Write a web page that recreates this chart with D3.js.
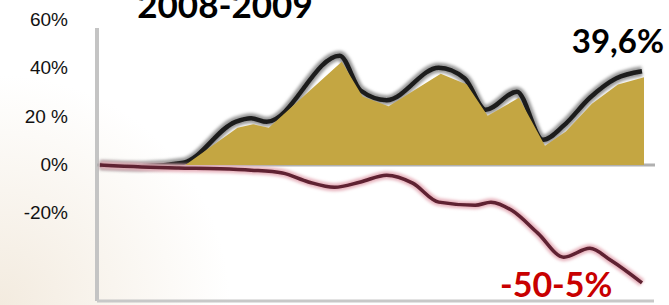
<!DOCTYPE html>
<html>
<head>
<meta charset="utf-8">
<script src="https://cdn.jsdelivr.net/npm/d3@7/dist/d3.min.js"></script>
<style>
  html, body { margin: 0; padding: 0; background: #fff; overflow: hidden; }
  svg { display: block; }
</style>
</head>
<body>
<div id="chart"></div>
<script>
// Data (weeks since start of 2008, cumulative % change)
const gainWeeks  = [0, 8, 16, 26, 29, 32, 46, 50, 55, 65, 70, 74, 80, 85, 89, 94, 99, 104];
const gainValues = [0, -0.5, 1, 18, 19.5, 18, 45.5, 31, 27, 40.5, 36, 23, 30.5, 10.5, 16.5, 28, 36, 39];

const lossWeeks  = [0, 8, 15, 23, 29, 35, 40, 45, 50, 55, 60, 65, 72, 75, 79, 84, 89, 94, 98, 104];
const lossValues = [0, -0.8, -1.2, -1.5, -2.1, -3.3, -7, -9.2, -7, -4.2, -7.5, -15.4, -16.7, -15.4, -18.8, -28.3, -38.3, -34.6, -39.6, -49];

const yTickValues = [60, 40, 20, 0, -20];
const yTickLabels = ["60%", "40%", "20 %", "0%", "-20%"];

const titleText = "2008-2009";
const gainLabel = "39,6%";
const lossLabel = "-50-5%";

const drawChart = (containerId) => {
    const width = 669;
    const height = 305;

    const gain = gainWeeks.map((w, i) => ({ w, v: gainValues[i] }));
    const loss = lossWeeks.map((w, i) => ({ w, v: lossValues[i] }));

    // Scales
    const xScale = d3.scaleLinear().domain([0, 104]).range([100, 642]);
    const yScale = d3.scaleLinear().domain([-56.5, 57]).range([301, 28]);

    const svg = d3.select(containerId)
        .append("svg")
        .attr("width", width)
        .attr("height", height);

    const defs = svg.append("defs");

    // faint beige wash in the lower left corner
    const bg = defs.append("radialGradient")
        .attr("id", "bgwash")
        .attr("gradientUnits", "userSpaceOnUse")
        .attr("cx", 0).attr("cy", height).attr("r", 230);
    bg.append("stop").attr("offset", "0%").attr("stop-color", "#f3ebdf");
    bg.append("stop").attr("offset", "100%").attr("stop-color", "#ffffff");

    const soft = defs.append("filter").attr("id", "soft")
        .attr("x", "-10%").attr("y", "-10%").attr("width", "120%").attr("height", "120%");
    soft.append("feGaussianBlur").attr("stdDeviation", 1.6);

    const slight = defs.append("filter").attr("id", "slight")
        .attr("x", "-10%").attr("y", "-10%").attr("width", "120%").attr("height", "120%");
    slight.append("feGaussianBlur").attr("stdDeviation", 0.7);

    svg.append("rect")
        .attr("width", width)
        .attr("height", height)
        .attr("fill", "url(#bgwash)");

    // Axes frame (left + bottom) and zero line
    const frame = svg.append("g").attr("filter", "url(#slight)");
    frame.append("line")
        .attr("x1", 97).attr("x2", 97)
        .attr("y1", yScale(57)).attr("y2", yScale(-56.5))
        .attr("stroke", "#c4c4c4").attr("stroke-width", 4);
    frame.append("line")
        .attr("x1", 97).attr("x2", 654)
        .attr("y1", yScale(-56.5)).attr("y2", yScale(-56.5))
        .attr("stroke", "#c8c8c8").attr("stroke-width", 3);
    frame.append("line")
        .attr("x1", 97).attr("x2", 655)
        .attr("y1", yScale(0)).attr("y2", yScale(0))
        .attr("stroke", "#b0b0b0").attr("stroke-width", 3);

    // Y axis labels
    const leftAxis = d3.axisLeft(yScale)
        .tickValues(yTickValues)
        .tickFormat((d, i) => yTickLabels[i])
        .tickSize(0)
        .tickPadding(29);

    const yAxis = svg.append("g")
        .attr("transform", "translate(97,-1)")
        .call(leftAxis);
    yAxis.select(".domain").remove();
    yAxis.selectAll("text")
        .attr("font-family", "Liberation Sans, Arial, sans-serif")
        .attr("font-size", 19)
        .attr("fill", "#111");

    // Line generators
    const line = d3.line()
        .x(d => xScale(d.w))
        .y(d => yScale(d.v))
        .curve(d3.curveMonotoneX);

    // Gold area sits slightly below/right of the dark line
    const area = d3.area()
        .x(d => xScale(d.w) + 2)
        .y0(yScale(0))
        .y1(d => Math.min(yScale(d.v) + 6, yScale(0)))
        .curve(d3.curveLinear);

    // Dark (gain) line
    svg.append("path")
        .datum(gain)
        .attr("d", line)
        .attr("fill", "none")
        .attr("stroke", "#9a9a9a")
        .attr("stroke-width", 10)
        .attr("stroke-linejoin", "round")
        .attr("filter", "url(#soft)");
    svg.append("path")
        .datum(gain)
        .attr("d", line)
        .attr("fill", "none")
        .attr("stroke", "#1c1c1c")
        .attr("stroke-width", 4.5)
        .attr("stroke-linejoin", "round")
        .attr("filter", "url(#slight)");

    // Red (loss) line
    svg.append("path")
        .datum(loss)
        .attr("d", line)
        .attr("fill", "none")
        .attr("stroke", "#e7b3bd")
        .attr("stroke-width", 8)
        .attr("stroke-linejoin", "round")
        .attr("filter", "url(#soft)");
    svg.append("path")
        .datum(loss)
        .attr("d", line)
        .attr("fill", "none")
        .attr("stroke", "#5e2030")
        .attr("stroke-width", 3.5)
        .attr("stroke-linejoin", "round")
        .attr("filter", "url(#slight)");

    // Gold area
    svg.append("path")
        .datum(gain)
        .attr("d", area)
        .attr("fill", "#c4a642");

    // Texts
    svg.append("text")
        .attr("x", 225)
        .attr("y", 18)
        .attr("text-anchor", "middle")
        .attr("font-family", "Lato, sans-serif")
        .attr("font-weight", 700)
        .attr("font-size", 35)
        .attr("fill", "#000")
        .text(titleText);

    svg.append("text")
        .attr("x", 664)
        .attr("y", 53)
        .attr("text-anchor", "end")
        .attr("font-family", "Lato, sans-serif")
        .attr("font-weight", 700)
        .attr("font-size", 33)
        .attr("fill", "#000")
        .text(gainLabel);

    svg.append("text")
        .attr("x", 500)
        .attr("y", 297)
        .attr("text-anchor", "start")
        .attr("font-family", "Lato, sans-serif")
        .attr("font-weight", 700)
        .attr("font-size", 34)
        .attr("fill", "#c80000")
        .text(lossLabel);
};

drawChart("#chart");
</script>
</body>
</html>
